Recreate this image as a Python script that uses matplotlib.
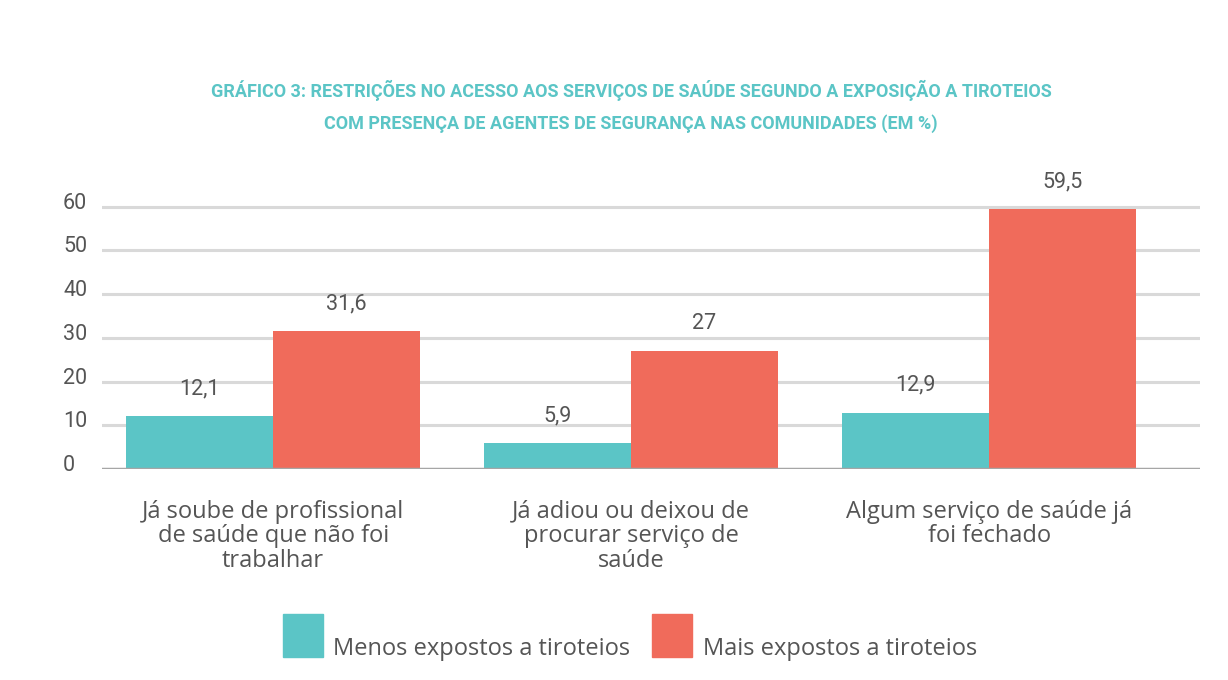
import matplotlib.pyplot as plt
import matplotlib.transforms as mtransforms
from matplotlib.patches import Rectangle
import numpy as np

# Dados
categorias = ["Já soube de profissional\nde saúde que não foi\ntrabalhar",
              "Já adiou ou deixou de\nprocurar serviço de\nsaúde",
              "Algum serviço de saúde já\nfoi fechado"]
menos_expostos = [12.1, 5.9, 12.9]
mais_expostos = [31.6, 27, 59.5]
rotulos_menos = ["12,1", "5,9", "12,9"]
rotulos_mais = ["31,6", "27", "59,5"]
series = ["Menos expostos a tiroteios", "Mais expostos a tiroteios"]
y_ticks = [0, 10, 20, 30, 40, 50, 60]

teal = '#5BC5C6'
red = '#F06B5B'
cinza = '#555555'

plt.rcParams['font.family'] = ['Open Sans', 'DejaVu Sans']

fig = plt.figure(figsize=(12.28, 6.8), dpi=100)
ax = fig.add_axes([102 / 1228, 1 - 469 / 680, (1200 - 102) / 1228, (469 - 190) / 680])

x = np.arange(len(categorias))
w = 0.41
b1 = ax.bar(x - w / 2, menos_expostos, w, color=teal, zorder=3)
b2 = ax.bar(x + w / 2, mais_expostos, w, color=red, zorder=3)

for bars, rotulos in [(b1, rotulos_menos), (b2, rotulos_mais)]:
    for barra, r in zip(bars, rotulos):
        ax.annotate(r, (barra.get_x() + barra.get_width() / 2, barra.get_height()),
                    xytext=(0, 12), textcoords='offset points', ha='center', va='bottom',
                    fontsize=15.5, color=cinza, family=['Roboto'])

ax.set_xlim(-0.478, 2.589)
ax.set_ylim(0, 63.8)
ax.set_yticks(y_ticks)
ax.set_yticklabels([str(t) for t in y_ticks], fontsize=15.5, color=cinza, ha='left',
                   family=['Roboto'])
ax.tick_params(axis='y', length=0, pad=28)
offset = mtransforms.ScaledTranslation(0, 6 / 100, fig.dpi_scale_trans)
for lbl in ax.get_yticklabels():
    lbl.set_transform(lbl.get_transform() + offset)

ax.set_xticks(x)
ax.set_xticklabels(categorias, fontsize=17, color=cinza, linespacing=1.03, va='top')
ax.tick_params(axis='x', length=0, pad=22)

for t in y_ticks[1:]:
    ax.axhline(t, color='#D9D9D9', lw=2.2, zorder=1)
ax.axhline(0, color='#A6A6A6', lw=2.5, zorder=4)

for s in ax.spines.values():
    s.set_visible(False)
ax.grid(False)

# Titulo
titulo_fonte = ['Roboto', 'DejaVu Sans']
fig.text(0.514, 1 - 90 / 680,
         "GRÁFICO 3: RESTRIÇÕES NO ACESSO AOS SERVIÇOS DE SAÚDE SEGUNDO A EXPOSIÇÃO A TIROTEIOS",
         ha='center', va='center', fontsize=13, fontweight='bold', color=teal,
         family=titulo_fonte)
fig.text(0.514, 1 - 124 / 680,
         "COM PRESENÇA DE AGENTES DE SEGURANÇA NAS COMUNIDADES (EM %)",
         ha='center', va='center', fontsize=13, fontweight='bold', color=teal,
         family=titulo_fonte)

# Legenda
for x0, xt, cor, nome in [(283, 333, teal, series[0]), (652, 703, red, series[1])]:
    fig.patches.append(Rectangle((x0 / 1228, 1 - 657 / 680), 40 / 1228, 43 / 680,
                                 transform=fig.transFigure, color=cor))
    fig.text(xt / 1228, 1 - 655 / 680, nome, ha='left', va='baseline',
             fontsize=17, color=cinza)

fig.savefig('out.png', dpi=100)
